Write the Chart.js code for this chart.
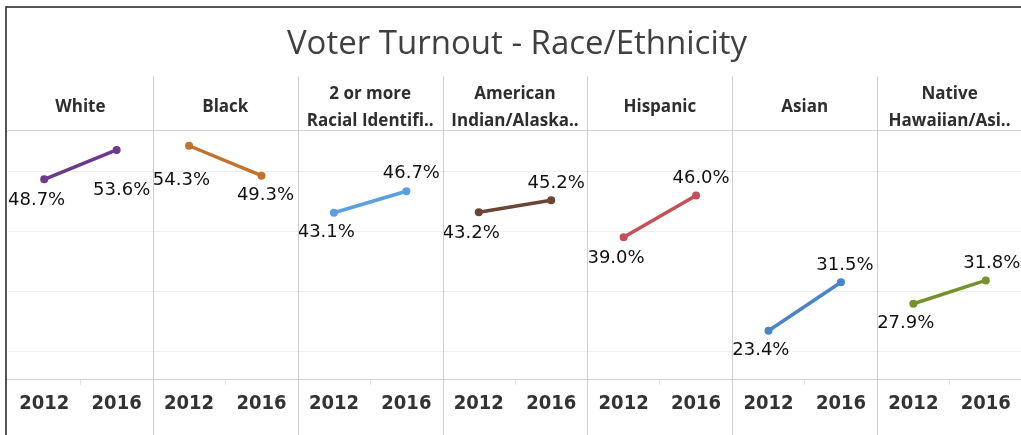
<!DOCTYPE html>
<html>
<head>
<meta charset="utf-8">
<title>Voter Turnout - Race/Ethnicity</title>
<script src="https://cdn.jsdelivr.net/npm/chart.js@4.4.0/dist/chart.umd.min.js"></script>
<style>
    html, body { margin: 0; padding: 0; background: #fff; overflow: hidden; }
    #wrap { position: absolute; left: 0; top: 0; width: 1026px; height: 435px; }
</style>
</head>
<body>
<div id="wrap"><canvas id="turnoutChart"></canvas></div>
<script>
// Data
const groups = ['White', 'Black', ['2 or more', 'Racial Identifi..'], ['American', 'Indian/Alaska..'],
    'Hispanic', 'Asian', ['Native', 'Hawaiian/Asi..']];
const years = ['2012', '2016'];
const turnout2012 = [48.7, 54.3, 43.1, 43.2, 39.0, 23.4, 27.9];
const turnout2016 = [53.6, 49.3, 46.7, 45.2, 46.0, 31.5, 31.8];
const yTicks = [20, 30, 40, 50];

// Styling
const groupColors = ['#6b3a8e', '#c0722f', '#5b9fe3', '#6b4535', '#c45059', '#4a86c3', '#76922e'];
const yMin = 15.33;
const yMax = 56.83;
const headerLine = 27;     // px per header text line
const headerShift = 9.5;   // lift header labels off the plot
// label offset (px) from each point: [2012, 2016] as [dx, dy]
const labelOffsets = [
    [[-8, 21], [5, 40]],
    [[-8, 35], [4, 20]],
    [[-9, 20], [5, -18]],
    [[-9, 21], [5, -17]],
    [[-9, 21], [5, -17]],
    [[-8, 20], [4, -17]],
    [[-9, 20], [6, -17]]
];

// x labels: 2012/2016 repeated for every panel
const xLabels = [];
groups.forEach(() => years.forEach(y => xLabels.push(y)));

// one dataset per group, only its own two slots filled
const datasets = groups.map((g, i) => {
    const data = new Array(xLabels.length).fill(null);
    data[i * 2] = turnout2012[i];
    data[i * 2 + 1] = turnout2016[i];
    return {
        label: Array.isArray(g) ? g.join(' ') : g,
        data: data,
        borderColor: groupColors[i],
        backgroundColor: groupColors[i],
        borderWidth: 3.5,
        pointRadius: 4,
        pointHoverRadius: 4,
        pointBorderWidth: 0,
        tension: 0,
        spanGaps: false
    };
});

function panelEdge(chart, i) {
    const x = chart.scales.x;
    const half = (x.getPixelForValue(1) - x.getPixelForValue(0)) / 2;
    return x.getPixelForValue(i * 2) - half;
}

// panel separators + dashboard border
const framePlugin = {
    id: 'frame',
    beforeDraw(chart) {
        const ctx = chart.ctx;
        ctx.save();
        ctx.fillStyle = '#fff';
        ctx.fillRect(0, 0, chart.width, chart.height);
        ctx.restore();
    },
    afterDraw(chart) {
        const ctx = chart.ctx;
        const area = chart.chartArea;
        const top = area.top - headerLine * 2;
        ctx.save();
        ctx.strokeStyle = '#cecece';
        ctx.lineWidth = 1;
        for (let i = 1; i <= groups.length; i++) {
            const px = Math.round(panelEdge(chart, i)) + 0.5;
            ctx.beginPath();
            ctx.moveTo(px, top);
            ctx.lineTo(px, chart.height);
            ctx.stroke();
        }
        // header / axis lines run to the left border
        ctx.strokeStyle = '#d3d3d3';
        ctx.beginPath();
        ctx.moveTo(6, Math.round(area.top) + 0.5);
        ctx.lineTo(area.left, Math.round(area.top) + 0.5);
        ctx.moveTo(6, Math.round(area.bottom) + 0.5);
        ctx.lineTo(area.left, Math.round(area.bottom) + 0.5);
        ctx.stroke();
        // black border
        ctx.strokeStyle = '#1e1e1e';
        ctx.lineWidth = 1.5;
        ctx.beginPath();
        ctx.moveTo(6, chart.height);
        ctx.lineTo(6, 7);
        ctx.lineTo(chart.width, 7);
        ctx.stroke();
        ctx.restore();
    }
};

// value labels next to the points
const valueLabelPlugin = {
    id: 'valueLabels',
    afterDatasetsDraw(chart) {
        const ctx = chart.ctx;
        ctx.save();
        ctx.font = '18px "DejaVu Sans"';
        ctx.fillStyle = '#111';
        ctx.textAlign = 'center';
        ctx.textBaseline = 'middle';
        chart.data.datasets.forEach((ds, i) => {
            const meta = chart.getDatasetMeta(i);
            const left = panelEdge(chart, i);
            const right = panelEdge(chart, i + 1);
            [0, 1].forEach(k => {
                const el = meta.data[i * 2 + k];
                const v = ds.data[i * 2 + k];
                if (!el || v === null) return;
                const text = v.toFixed(1) + '%';
                const w = ctx.measureText(text).width;
                let cx = el.x + labelOffsets[i][k][0];
                cx = Math.max(left + w / 2, Math.min(right - w / 2, cx));
                ctx.fillText(text, cx, el.y + labelOffsets[i][k][1]);
            });
        });
        ctx.restore();
    }
};

const chart = new Chart(document.getElementById('turnoutChart'), {
    type: 'line',
    data: { labels: xLabels, datasets: datasets },
    plugins: [framePlugin, valueLabelPlugin],
    options: {
        responsive: true,
        maintainAspectRatio: false,
        animation: false,
        layout: { padding: { left: 8, right: 0, top: 0, bottom: 12 } },
        plugins: {
            legend: { display: false },
            tooltip: { enabled: false },
            title: {
                display: true,
                text: 'Voter Turnout - Race/Ethnicity',
                color: '#404040',
                font: { family: '"Open Sans"', size: 33, weight: 'normal', lineHeight: 1.2 },
                padding: { top: 25, bottom: -7 }
            }
        },
        scales: {
            x: {
                type: 'category',
                offset: true,
                border: { display: false },
                grid: {
                    display: true,
                    drawOnChartArea: false,
                    offset: true,
                    drawTicks: true,
                    tickLength: 6,
                    tickColor: ctx => (ctx.index % 2 ? '#e6e6e6' : 'rgba(0,0,0,0)')
                },
                ticks: {
                    autoSkip: false,
                    maxRotation: 0,
                    padding: 7,
                    color: '#333',
                    font: { family: '"DejaVu Sans Condensed", "DejaVu Sans"', weight: 'bold', size: 20, lineHeight: 1.2 }
                }
            },
            xTop: {
                type: 'category',
                position: 'top',
                labels: groups,
                offset: true,
                border: { display: false },
                grid: { display: false, drawTicks: false },
                ticks: {
                    autoSkip: false,
                    maxRotation: 0,
                    padding: headerShift,
                    crossAlign: 'center',
                    color: '#2e2e2e',
                    font: { family: '"Open Sans"', weight: 'bold', size: 17, lineHeight: headerLine / 17 }
                }
            },
            y: {
                min: yMin,
                max: yMax,
                border: { display: false },
                afterBuildTicks: axis => {
                    axis.ticks = [yMin].concat(yTicks, [yMax]).map(v => ({ value: v }));
                },
                grid: {
                    drawTicks: false,
                    color: ctx => (ctx.tick && (ctx.tick.value === yMin || ctx.tick.value === yMax)) ? '#d3d3d3' : '#efefef'
                },
                ticks: { display: false }
            }
        }
    }
});
</script>
</body>
</html>
